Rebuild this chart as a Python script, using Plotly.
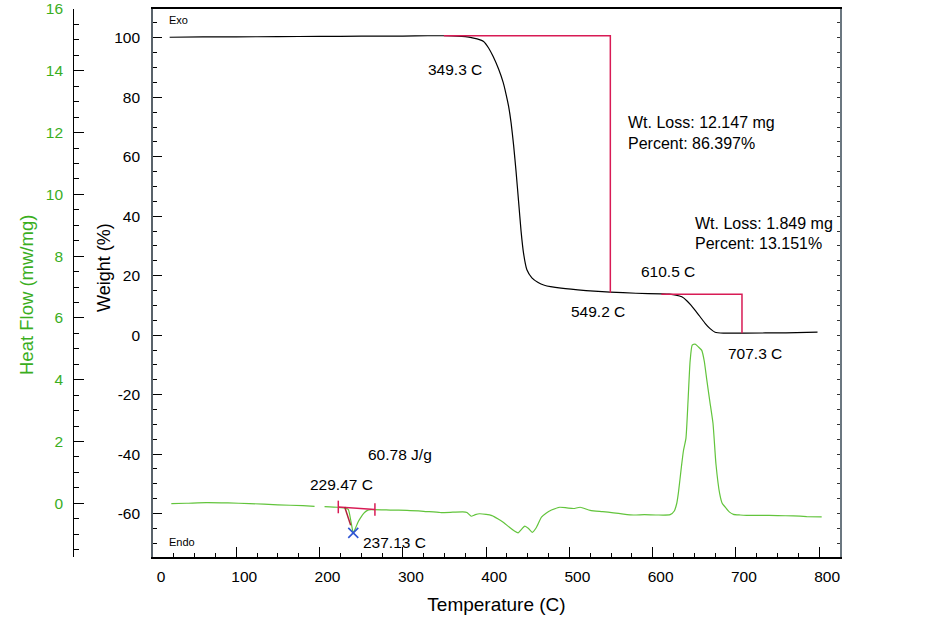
import plotly.graph_objects as go

# ---------------- data ----------------
tga_temp = [20, 60, 100, 150, 200, 250, 300, 330, 350, 365, 375, 385, 392, 397, 403, 408.5,
            415, 420.5, 424, 427, 430, 433, 436, 439, 442, 445, 449, 455, 462, 470, 490, 520,
            549, 580, 610, 620, 628, 635, 641, 646, 652, 657, 663, 669, 675, 685, 710, 760, 798]
tga_wt = [100.2, 100.3, 100.35, 100.4, 100.5, 100.55, 100.6, 100.7, 100.7, 100.6, 100.4, 99.9,
          99.4, 98.8, 96.6, 93.7, 89.5, 85.0, 81.0, 77.0, 71.5, 64.0, 55.0, 45.0, 35.0, 27.5,
          22.0, 19.3, 17.8, 16.8, 15.8, 15.0, 14.5, 14.1, 13.9, 13.8, 13.5, 12.9, 11.6, 10.1,
          8.0, 6.2, 4.0, 2.2, 1.0, 0.7, 0.7, 0.8, 1.0]

step1_temp = [349.3, 549.2, 549.2]
step1_wt = [100.7, 100.7, 14.3]
step2_temp = [610.5, 707.3, 707.3]
step2_wt = [13.8, 13.8, 0.65]

dsc_temp = [22, 40, 64, 90, 116, 150, 180, 194, None, 206, 222, 230, 234.5, 237.8, 240.5,
            243, 246, 249, 253, 257, 262, 285, 305, 325, 345, 360, 372, 377, 382, 387, 392,
            400, 407, 414, 421, 428, 434, 438.5, 442, 446.5, 451, 455.5, 460, 466.5, 472,
            478.5, 488.5, 497, 505, 513, 525, 540, 553, 565, 577, 590, 605, 621, 626, 629,
            631, 634.5, 637, 640, 642.5, 645, 647.5, 651, 655, 659, 662, 665, 668.5, 672.5,
            676, 680.5, 683.5, 687, 692, 697, 705, 713, 730, 750, 769, 785, 803]
dsc_hf = [-0.01, 0.0, 0.02, 0.01, -0.01, -0.05, -0.08, -0.1, None, -0.11, -0.13, -0.15,
          -0.2, -0.6, -0.96, -0.82, -0.62, -0.48, -0.33, -0.24, -0.21, -0.22, -0.23, -0.26,
          -0.3, -0.29, -0.28, -0.3, -0.42, -0.37, -0.34, -0.36, -0.4, -0.5, -0.62, -0.78,
          -0.9, -0.96, -0.86, -0.74, -0.82, -0.94, -0.8, -0.45, -0.32, -0.22, -0.13, -0.15,
          -0.17, -0.13, -0.23, -0.27, -0.31, -0.35, -0.38, -0.37, -0.38, -0.37, -0.25, 0.0,
          0.35, 1.17, 1.7, 2.1, 3.3, 4.6, 5.12, 5.15, 5.06, 4.95, 4.6, 4.0, 3.33, 2.58, 1.28,
          0.31, 0.0, -0.12, -0.28, -0.36, -0.38, -0.39, -0.39, -0.40, -0.41, -0.43, -0.44]

base_temp = [222.5, 266.5]
base_hf = [-0.12, -0.2]
tangent_temp = [230.2, 237.4]
tangent_hf = [-0.12, -0.71]
peak_temp = [240.5]
peak_hf = [-0.96]

x_ticks = [0, 100, 200, 300, 400, 500, 600, 700, 800]
wt_ticks = [-60, -40, -20, 0, 20, 40, 60, 80, 100]
wt_labels = ["-60", "-40", "-20", "0", "20", "40", "60", "80", "100"]
hf_ticks = [0, 2, 4, 6, 8, 10, 12, 14, 16]

# ---------------- styles ----------------
FONT = "Liberation Sans, Arial, sans-serif"
RED = "#d81b55"
GREEN_LINE = "#62c43c"
GREEN_TEXT = "#3aae1e"
BLUE = "#2f55d4"

W, H = 949, 621
ML, MR, MT, MB = 20, 109, 9, 64
PW, PH = W - ML - MR, H - MT - MB


def px_x(px):
    return (px - ML) / PW


def px_y(py):
    return (H - MB - py) / PH


fig = go.Figure()

fig.add_trace(go.Scatter(x=tga_temp, y=tga_wt, mode="lines", line=dict(color="black", width=1.2, shape="spline", smoothing=0.5),
                         xaxis="x", yaxis="y", showlegend=False))
fig.add_trace(go.Scatter(x=step1_temp, y=step1_wt, mode="lines", line=dict(color=RED, width=1.5),
                         xaxis="x", yaxis="y", showlegend=False))
fig.add_trace(go.Scatter(x=step2_temp, y=step2_wt, mode="lines", line=dict(color=RED, width=1.5),
                         xaxis="x", yaxis="y", showlegend=False))

fig.add_trace(go.Scatter(x=dsc_temp, y=dsc_hf, mode="lines", line=dict(color=GREEN_LINE, width=1.2, shape="spline", smoothing=0.5),
                         xaxis="x", yaxis="y2", showlegend=False, connectgaps=False))
fig.add_trace(go.Scatter(x=base_temp, y=base_hf, mode="lines+markers", line=dict(color=RED, width=1.5),
                         marker=dict(symbol="line-ns-open", size=9, color=RED, line=dict(color=RED, width=1.5)),
                         xaxis="x", yaxis="y2", showlegend=False))
fig.add_trace(go.Scatter(x=tangent_temp, y=tangent_hf, mode="lines", line=dict(color="#b0243a", width=1.5),
                         xaxis="x", yaxis="y2", showlegend=False))
fig.add_trace(go.Scatter(x=peak_temp, y=peak_hf, mode="markers",
                         marker=dict(symbol="x-thin-open", size=10, color=BLUE, line=dict(color=BLUE, width=1.6)),
                         xaxis="x", yaxis="y2", showlegend=False))

wt_range = [-74.6, 109.7]
hf_range = [-1.74, 16]

fig.update_layout(
    width=W, height=H,
    margin=dict(l=ML, r=MR, t=MT, b=MB, autoexpand=False),
    paper_bgcolor="white", plot_bgcolor="white",
    font=dict(family=FONT, size=15, color="black"),
    xaxis=dict(domain=[0.1622, 1], range=[0, 825], tickvals=x_ticks, ticks="inside", ticklen=10,
               tickcolor="black", tickwidth=1, showline=True, linecolor="black", linewidth=1.5,
               mirror=True, showgrid=False, zeroline=False, ticklabelshift=8, ticklabelstandoff=5,
               automargin=False, tickfont=dict(size=15.5, color="black"),
               minor=dict(dtick=25, tick0=0, ticks="inside", ticklen=4, tickcolor="black"),
               title=dict(text="Temperature (C)", font=dict(size=19), standoff=13)),
    yaxis=dict(range=wt_range, tickvals=wt_ticks, ticktext=wt_labels, ticks="inside", ticklen=9,
               tickcolor="black", showline=True, linecolor="#59636b", linewidth=1.6, showgrid=False,
               zeroline=False, ticklabelstandoff=8, automargin=False,
               tickfont=dict(size=15.5, color="black"),
               minor=dict(dtick=5, tick0=0, ticks="inside", ticklen=4, tickcolor="black")),
    yaxis2=dict(range=hf_range, tickvals=hf_ticks, overlaying="y", anchor="free", position=0.065,
                side="left", ticks="inside", ticklen=10, tickcolor="black", showline=True,
                linecolor="black", linewidth=1.2, showgrid=False, zeroline=False,
                ticklabelstandoff=7, automargin=False,
                tickfont=dict(size=15.5, color=GREEN_TEXT),
                minor=dict(dtick=0.5, tick0=0, ticks="inside", ticklen=5, tickcolor="black")),
    yaxis3=dict(range=wt_range, overlaying="y", anchor="x", side="right", dtick=5, tick0=0,
                ticks="inside", ticklen=3, tickcolor="#333", showticklabels=False, showline=True,
                linecolor="#6b7780", linewidth=1.6, showgrid=False, zeroline=False, automargin=False),
)

# invisible trace to activate the right-hand frame axis
fig.add_trace(go.Scatter(x=[0], y=[0], mode="markers", marker=dict(opacity=0), xaxis="x", yaxis="y3",
                         showlegend=False, hoverinfo="skip"))

# y-axis titles (placed off-centre as in the original)
fig.add_annotation(text="Weight (%)", x=px_x(104), y=px_y(268), xref="paper", yref="paper",
                   textangle=-90, showarrow=False, xanchor="center", yanchor="middle",
                   font=dict(size=18, color="black", family=FONT))
fig.add_annotation(text="Heat Flow (mw/mg)", x=px_x(26), y=px_y(295), xref="paper", yref="paper",
                   textangle=-90, showarrow=False, xanchor="center", yanchor="middle",
                   font=dict(size=18.5, color=GREEN_TEXT, family=FONT))

ann = [
    ("349.3 C", 362.7, 89.3, "center", 15.5),
    ("549.2 C", 534.4, 8.0, "center", 15.5),
    ("610.5 C", 618.9, 21.4, "center", 15.5),
    ("707.3 C", 723.0, -6.0, "center", 15.5),
    ("Wt. Loss: 12.147 mg", 568.0, 71.6, "left", 16),
    ("Percent: 86.397%", 568.0, 64.6, "left", 16),
    ("Wt. Loss: 1.849 mg", 648.9, 37.7, "left", 16),
    ("Percent: 13.151%", 648.9, 30.8, "left", 16),
    ("60.78 J/g", 296.6, -40.2, "center", 15.5),
    ("229.47 C", 226.6, -50.3, "center", 15.5),
    ("237.13 C", 290.6, -69.7, "center", 15.5),
    ("Exo", 16.4, 106.1, "left", 11),
    ("Endo", 16.4, -69.6, "left", 11),
]
for text, x, y, xa, size in ann:
    fig.add_annotation(text=text, x=x, y=y, xref="x", yref="y", xanchor=xa, yanchor="middle",
                       showarrow=False, font=dict(size=size, color="black", family=FONT))

fig.write_html("out.html")
